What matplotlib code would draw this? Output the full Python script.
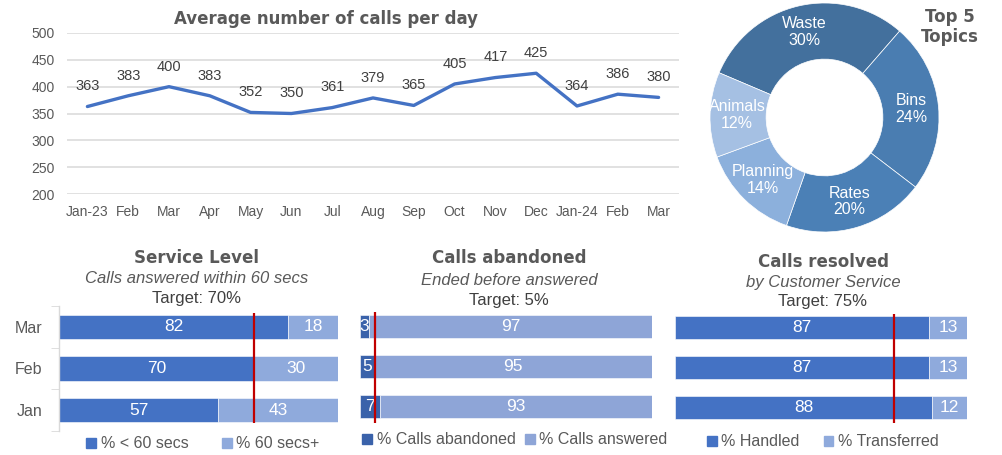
import matplotlib
matplotlib.use('Agg')
import matplotlib.pyplot as plt
from matplotlib.patches import Patch
import numpy as np

# ---------------- data ----------------
months = ['Jan-23', 'Feb', 'Mar', 'Apr', 'May', 'Jun', 'Jul', 'Aug', 'Sep',
          'Oct', 'Nov', 'Dec', 'Jan-24', 'Feb', 'Mar']
calls = [363, 383, 400, 383, 352, 350, 361, 379, 365, 405, 417, 425, 364, 386, 380]

topics = ['Waste', 'Bins', 'Rates', 'Planning', 'Animals']
topic_pct = [30, 24, 20, 14, 12]

bar_months = ['Jan', 'Feb', 'Mar']
sl_within = [57, 70, 82]
sl_over = [43, 30, 18]
sl_target = 70
ab_abandoned = [7, 5, 3]
ab_answered = [93, 95, 97]
ab_target = 5
res_handled = [88, 87, 87]
res_transferred = [12, 13, 13]
res_target = 75

# ---------------- styling ----------------
W, H = 1002, 455
GRAY = '#595959'
REG = ['Liberation Sans', 'DejaVu Sans']
BOLD = ['DejaVu Sans']
plt.rcParams['font.family'] = REG

fig = plt.figure(figsize=(W / 100, H / 100), dpi=100)


def rect(x0, y0, x1, y1):
    return [x0 / W, 1 - y1 / H, (x1 - x0) / W, (y1 - y0) / H]


def fxy(x, y):
    return x / W, 1 - y / H


# ---------------- line chart ----------------
ax = fig.add_axes(rect(67, 33, 679, 194))
x = np.arange(len(months))
ax.plot(x, calls, color='#4472C4', lw=2.4, solid_joinstyle='round', solid_capstyle='round', zorder=3)
ax.set_xlim(-0.5, len(months) - 0.5)
ax.set_ylim(200, 500)
ax.set_yticks(range(200, 501, 50))
ax.set_xticks(x, months)
ax.grid(axis='y', color='#D9D9D9', lw=1.1)
ax.set_axisbelow(True)
for s in ax.spines.values():
    s.set_visible(False)
ax.tick_params(axis='both', length=0, colors=GRAY, labelsize=10)
ax.tick_params(axis='y', pad=9)
ax.tick_params(axis='x', pad=8)
for xi, v in zip(x, calls):
    ax.annotate(str(v), (xi, v), xytext=(0, 14.5), textcoords='offset points',
                ha='center', va='center', fontsize=10.5, color='#404040')
fig.text(*fxy(326, 19), 'Average number of calls per day', ha='center', va='center',
         fontsize=12, weight='bold', color=GRAY, family=BOLD)

# ---------------- donut ----------------
ax2 = fig.add_axes(rect(710, 3, 939, 232))
donut_colors = ['#43709D', '#4A7DB1', '#4B80B6', '#8CB0DC', '#A5C0E3']
wedges, _ = ax2.pie(topic_pct, radius=1, startangle=157, counterclock=False,
                    colors=donut_colors,
                    wedgeprops=dict(width=0.49, edgecolor='white', linewidth=0.5))
ax2.set_xlim(-1, 1)
ax2.set_ylim(-1, 1)
ax2.set_aspect('equal')
ax2.axis('off')
for w, name, p in zip(wedges, topics, topic_pct):
    ang = np.deg2rad((w.theta1 + w.theta2) / 2)
    r = 0.765
    ax2.text(r * np.cos(ang), r * np.sin(ang), f'{name}\n{p}%', ha='center', va='center',
             color='white', fontsize=11.5, linespacing=1.15)
fig.text(*fxy(950, 27), 'Top 5\nTopics', ha='center', va='center', fontsize=12,
         weight='bold', color=GRAY, family=BOLD, linespacing=1.15)


# ---------------- bar charts ----------------
def bar_chart(box, left_vals, right_vals, colors, target, title, subtitle, target_txt,
              cx, title_ys, names, legend_xy, colspacing, vspan, show_cats=False):
    a = fig.add_axes(rect(*box))
    y = np.arange(len(bar_months))
    a.barh(y, left_vals, height=0.58, color=colors[0], edgecolor='white', linewidth=0.4)
    a.barh(y, right_vals, left=left_vals, height=0.58, color=colors[1], edgecolor='white', linewidth=0.4)
    for yi, lv, rv in zip(y, left_vals, right_vals):
        a.text(lv / 2, yi, str(lv), ha='center', va='center', color='white', fontsize=12.5, clip_on=False)
        a.text(lv + rv / 2, yi, str(rv), ha='center', va='center', color='white', fontsize=12.5)
    a.plot([target, target], vspan, color='#C00000', lw=1.6, solid_capstyle='butt', zorder=5, clip_on=False)
    a.set_xlim(0, 100)
    a.set_ylim(-0.5, len(bar_months) - 0.5)
    a.set_xticks([])
    for s in ['top', 'right', 'bottom']:
        a.spines[s].set_visible(False)
    if show_cats:
        a.spines['left'].set_color('#D9D9D9')
        a.spines['left'].set_linewidth(1)
        a.set_yticks(y, bar_months)
        a.set_yticks(np.arange(-0.5, len(bar_months)), minor=True)
        a.tick_params(axis='y', which='major', length=0, pad=12, labelsize=11.5, colors=GRAY)
        a.tick_params(axis='y', which='minor', length=6, color='#D9D9D9')
    else:
        a.spines['left'].set_visible(False)
        a.set_yticks([])
    fig.text(*fxy(cx, title_ys[0]), title, ha='center', va='baseline', fontsize=12,
             weight='bold', color=GRAY, family=BOLD)
    fig.text(*fxy(cx, title_ys[1]), subtitle, ha='center', va='baseline', fontsize=12,
             style='italic', color=GRAY)
    fig.text(*fxy(cx, title_ys[2]), target_txt, ha='center', va='baseline', fontsize=12,
             color='#404040')
    handles = [Patch(color=colors[0], label=names[0]), Patch(color=colors[1], label=names[1])]
    fig.legend(handles=handles, loc='center', bbox_to_anchor=fxy(*legend_xy), ncol=2,
               frameon=False, fontsize=11.5, handlelength=0.6, handleheight=0.6,
               handletextpad=0.3, columnspacing=colspacing, labelcolor=GRAY,
               borderpad=0, borderaxespad=0)
    return a


bar_chart((59, 306, 338, 431), sl_within, sl_over, ['#4472C4', '#8FAADC'], sl_target,
          'Service Level', 'Calls answered within 60 secs', 'Target: 70%',
          197, (263, 283, 303), ['% < 60 secs', '% 60 secs+'], (203, 444), 2.1,
          (-0.31, 2.33), show_cats=True)
bar_chart((360, 307, 652, 426), ab_abandoned, ab_answered, ['#3A62AA', '#8EA5D7'], ab_target,
          'Calls abandoned', 'Ended before answered', 'Target: 5%',
          509, (263, 285, 305), ['% Calls abandoned', '% Calls answered'], (515, 440), 0.6,
          (-0.42, 2.37))
bar_chart((675, 308, 967, 427), res_handled, res_transferred, ['#4472C4', '#8FAADC'], res_target,
          'Calls resolved', 'by Customer Service', 'Target: 75%',
          823, (267, 287, 306), ['% Handled', '% Transferred'], (823, 442), 1.5,
          (-0.41, 2.35))

fig.savefig('out.png', dpi=100)
